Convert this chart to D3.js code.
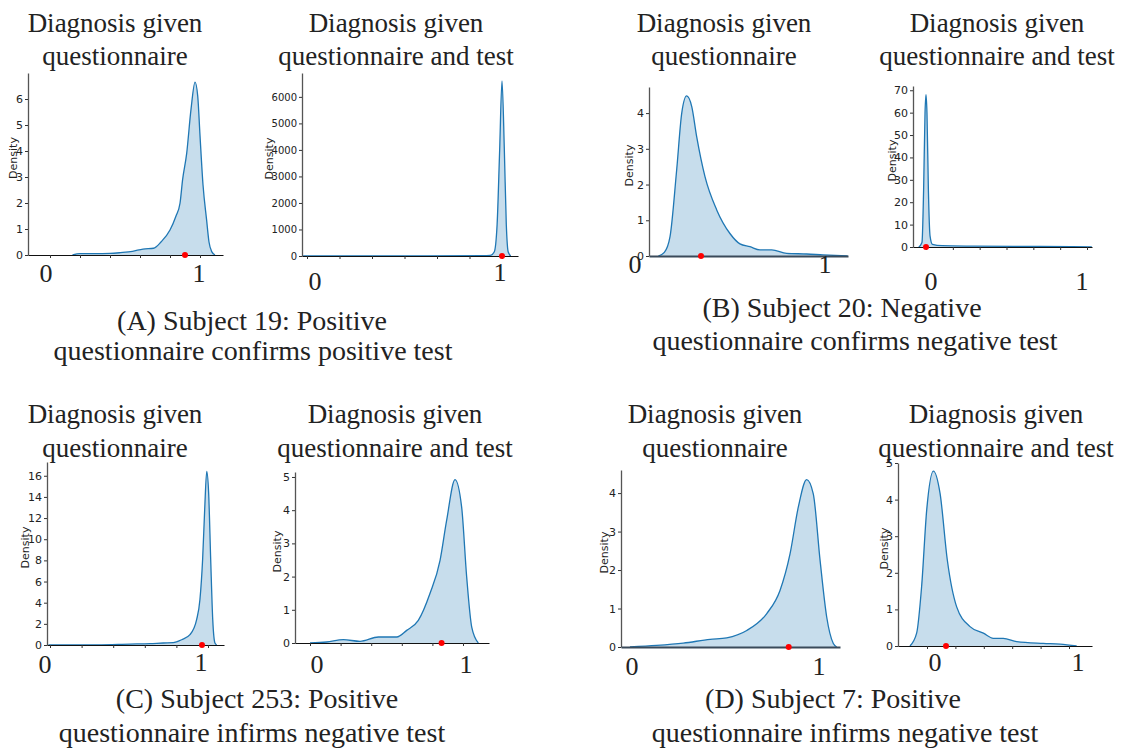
<!DOCTYPE html>
<html>
<head>
<meta charset="utf-8">
<script src="https://cdn.jsdelivr.net/npm/d3@7"></script>
<style>
  body { margin: 0; background: #fff; }
  .serif { font-family: "Liberation Serif", "Times New Roman", serif; fill: #222; }
</style>
</head>
<body>
<script>
// KDE curves: x = probability, y = density
var a1X = [0.15, 0.2, 0.3, 0.4, 0.47, 0.55, 0.62, 0.69, 0.74, 0.8, 0.84, 0.867, 0.884, 0.911, 0.94, 0.967, 0.985, 1.0, 1.02, 1.044, 1.06, 1.078, 1.10];
var a1Y = [0, 0.05, 0.05, 0.06, 0.09, 0.14, 0.23, 0.26, 0.5, 0.96, 1.5, 2.0, 2.9, 3.9, 5.6, 6.65, 6.1, 4.6, 2.7, 1.35, 0.5, 0.13, 0];
var a2X = [-0.02, 0.5, 0.9, 0.94, 0.96, 0.975, 0.988, 1.0, 1.012, 1.022, 1.032, 1.045];
var a2Y = [0, 5, 10, 20, 150, 1200, 4000, 6600, 4000, 1200, 150, 0];
var b1X = [0.118, 0.15, 0.18, 0.215, 0.242, 0.268, 0.295, 0.321, 0.365, 0.427, 0.497, 0.55, 0.603, 0.656, 0.718, 0.797, 0.903, 0.99, 1.12];
var b1Y = [0, 0.1, 0.54, 2.4, 4.0, 4.48, 4.18, 3.34, 2.22, 1.29, 0.63, 0.34, 0.26, 0.17, 0.17, 0.075, 0.056, 0.03, 0];
var b2X = [-0.045, -0.025, -0.015, -0.006, 0, 0.006, 0.015, 0.025, 0.04, 0.1, 0.3, 0.6, 0.9, 1.03];
var b2Y = [0, 2, 25, 60, 68, 60, 25, 5, 1.2, 0.6, 0.4, 0.25, 0.15, 0];
var c1X = [-0.01, 0.3, 0.506, 0.633, 0.717, 0.78, 0.833, 0.886, 0.928, 0.949, 0.966, 0.979, 0.992, 1.004, 1.017, 1.03, 1.044, 1.055];
var c1Y = [0, 0.02, 0.09, 0.13, 0.19, 0.22, 0.5, 0.98, 2.4, 4.3, 8.1, 12.8, 16.4, 14.4, 8.1, 2.4, 0.19, 0];
var c2X = [0, 0.109, 0.218, 0.327, 0.447, 0.567, 0.632, 0.708, 0.784, 0.85, 0.893, 0.948, 0.991, 1.024, 1.057, 1.1];
var c2Y = [0, 0.03, 0.1, 0.05, 0.18, 0.18, 0.38, 0.68, 1.49, 2.49, 3.69, 4.92, 4.1, 1.99, 0.48, 0];
var d1X = [0.005, 0.146, 0.287, 0.429, 0.517, 0.623, 0.729, 0.799, 0.852, 0.896, 0.94, 0.975, 1.011, 1.046, 1.081, 1.099];
var d1Y = [0, 0.04, 0.1, 0.2, 0.24, 0.43, 0.87, 1.47, 2.42, 3.64, 4.35, 3.98, 2.25, 0.78, 0.09, 0];
var d2X = [-0.12, -0.073, -0.038, -0.002, 0.045, 0.092, 0.143, 0.209, 0.303, 0.397, 0.467, 0.537, 0.632, 0.819, 0.937, 1.054];
var d2Y = [0, 0.35, 1.62, 3.72, 4.78, 4.17, 2.35, 1.07, 0.53, 0.35, 0.21, 0.21, 0.12, 0.07, 0.05, 0];

var curveX = [a1X, a2X, b1X, b2X, c1X, c2X, d1X, d2X];
var curveY = [a1Y, a2Y, b1Y, b2Y, c1Y, c2Y, d1Y, d2Y];

// observed diagnosis (red dot) for each subplot
var observed = [0.90, 1.0, 0.344, 0.0, 0.962, 0.86, 0.845, 0.134];

// axis ranges and ticks
var yMax = [7.0, 6900, 4.73, 71.9, 17.3, 5.15, 4.6, 5.0];
var yTicks = [
    [0, 1, 2, 3, 4, 5, 6],
    [0, 1000, 2000, 3000, 4000, 5000, 6000],
    [0, 1, 2, 3, 4],
    [0, 10, 20, 30, 40, 50, 60, 70],
    [0, 2, 4, 6, 8, 10, 12, 14, 16],
    [0, 1, 2, 3, 4, 5],
    [0, 1, 2, 3, 4],
    [0, 1, 2, 3, 4, 5]
];
var fifths = [0, 0.2, 0.4, 0.6, 0.8, 1];
var sixths = [0, 1 / 6, 2 / 6, 3 / 6, 4 / 6, 5 / 6, 1];
var xTicks = [fifths, sixths, [], sixths, fifths, fifths, [], fifths];
var endLabels = ["0", "1"];

var titleQ = ["Diagnosis given", "questionnaire"];
var titleQT = ["Diagnosis given", "questionnaire and test"];
var titles = [titleQ, titleQT, titleQ, titleQT, titleQ, titleQT, titleQ, titleQT];
var captions = [
    ["(A) Subject 19: Positive", "questionnaire confirms positive test"],
    ["(B) Subject 20: Negative", "questionnaire confirms negative test"],
    ["(C) Subject 253: Positive", "questionnaire infirms negative test"],
    ["(D) Subject 7: Positive", "questionnaire infirms negative test"]
];

// pixel layout of each subplot (x0/x1 = where 0 and 1 sit)
var layout = [
    { left: 28,  right: 223,  top: 73,  bottom: 255, x0: 50,  x1: 200,  dens: -15, tx: 115, ty: [32, 65],   lab: [[-4, 282], [-1, 282]] },
    { left: 302, right: 518,  top: 73,  bottom: 256, x0: 307, x1: 502,  dens: -33, tx: 396, ty: [32, 65],   lab: [[8, 290], [-2, 281]] },
    { left: 649, right: 848,  top: 87,  bottom: 256, x0: 636, x1: 825,  dens: -20, tx: 724, ty: [32, 65],   lab: [[-1, 273], [0, 273]] },
    { left: 913, right: 1092, top: 86,  bottom: 247, x0: 926, x1: 1087, dens: -21, tx: 997, ty: [32, 65],   lab: [[5, 290], [-5, 290]] },
    { left: 47,  right: 224,  top: 462, bottom: 645, x0: 50,  x1: 208,  dens: -22, tx: 115, ty: [423, 457], lab: [[-5, 673], [-7, 671]] },
    { left: 295, right: 489,  top: 472, bottom: 643, x0: 310, x1: 463,  dens: -18, tx: 395, ty: [423, 457], lab: [[7, 673], [3, 673]] },
    { left: 621, right: 840,  top: 470, bottom: 647, x0: 629, x1: 818,  dens: -17, tx: 715, ty: [423, 457], lab: [[3, 675], [1, 675]] },
    { left: 898, right: 1092, top: 463, bottom: 646, x0: 927, x1: 1069, dens: -14, tx: 996, ty: [423, 457], lab: [[8, 671], [9, 671]] }
];
var captionPos = [
    { x: [252, 253], y: [330, 360] },
    { x: [842, 855], y: [317, 350] },
    { x: [257, 252], y: [708, 742] },
    { x: [833, 845], y: [708, 742] }
];

var blue = "#1f77b4";

var svg = d3.select("body")
            .append("svg")
            .attr("width", 1131)
            .attr("height", 753);

layout.forEach(function(L, i) {
    var g = svg.append("g");

    var xs = d3.scaleLinear().domain([0, 1]).range([L.x0, L.x1]);
    var xAxisScale = d3.scaleLinear()
                       .domain([xs.invert(L.left), xs.invert(L.right)])
                       .range([L.left, L.right]);
    var ys = d3.scaleLinear().domain([0, yMax[i]]).range([L.bottom, L.top]);

    var pts = d3.zip(curveX[i], curveY[i]);

    // filled density
    g.append("path")
     .datum(pts)
     .attr("fill", blue)
     .attr("fill-opacity", 0.25)
     .attr("d", d3.area()
                  .x(d => xs(d[0]))
                  .y0(ys(0))
                  .y1(d => ys(d[1]))
                  .curve(d3.curveMonotoneX));

    g.append("path")
     .datum(pts)
     .attr("fill", "none")
     .attr("stroke", blue)
     .attr("stroke-width", 1.3)
     .attr("d", d3.line()
                  .x(d => xs(d[0]))
                  .y(d => ys(d[1]))
                  .curve(d3.curveMonotoneX));

    // y-axis
    var yAx = g.append("g")
               .attr("transform", `translate(${L.left}, 0)`)
               .call(d3.axisLeft(ys)
                       .tickValues(yTicks[i])
                       .tickFormat(d => String(d))
                       .tickSize(3).tickSizeOuter(0).tickPadding(2));
    yAx.select(".domain").attr("stroke", "#555").attr("stroke-width", 1.3);
    yAx.selectAll(".tick line").attr("stroke", "#333");
    yAx.selectAll("text")
       .attr("font-family", "DejaVu Sans, sans-serif")
       .attr("font-size", i == 1 ? 10 : 11)
       .attr("fill", "#222");

    // x-axis
    var noTicks = xTicks[i].length == 0;
    var xAx = g.append("g")
               .attr("transform", `translate(0, ${L.bottom})`)
               .call(d3.axisBottom(xAxisScale).tickValues(xTicks[i]).tickFormat("").tickSize(3).tickSizeOuter(0));
    xAx.select(".domain")
       .attr("stroke", noTicks ? "#3a4a5a" : "#111")
       .attr("stroke-width", noTicks ? 2 : 1.2);
    xAx.selectAll(".tick line").attr("stroke", "#333");

    // "Density" label
    g.append("text")
     .attr("transform", `translate(${L.left + L.dens}, ${(L.top + L.bottom) / 2 - 6}) rotate(-90)`)
     .attr("text-anchor", "middle")
     .attr("dy", "0.35em")
     .attr("font-family", "DejaVu Sans, sans-serif")
     .attr("font-size", 11)
     .attr("fill", "#222")
     .text("Density");

    // observed value
    g.append("circle")
     .attr("cx", xs(observed[i]))
     .attr("cy", ys(0))
     .attr("r", 3)
     .attr("fill", "red");

    // large 0 / 1 labels under the axis
    endLabels.forEach(function(t, k) {
        g.append("text")
         .attr("class", "serif")
         .attr("x", xs(+t) + L.lab[k][0])
         .attr("y", L.lab[k][1])
         .attr("text-anchor", "middle")
         .attr("font-size", 26)
         .text(t);
    });

    // title above the subplot
    titles[i].forEach(function(line, k) {
        g.append("text")
         .attr("class", "serif")
         .attr("x", L.tx)
         .attr("y", L.ty[k])
         .attr("text-anchor", "middle")
         .attr("font-size", 27)
         .text(line);
    });
});

// panel captions
captions.forEach(function(lines, p) {
    lines.forEach(function(line, k) {
        svg.append("text")
           .attr("class", "serif")
           .attr("x", captionPos[p].x[k])
           .attr("y", captionPos[p].y[k])
           .attr("text-anchor", "middle")
           .attr("font-size", 28)
           .text(line);
    });
});
</script>
</body>
</html>
